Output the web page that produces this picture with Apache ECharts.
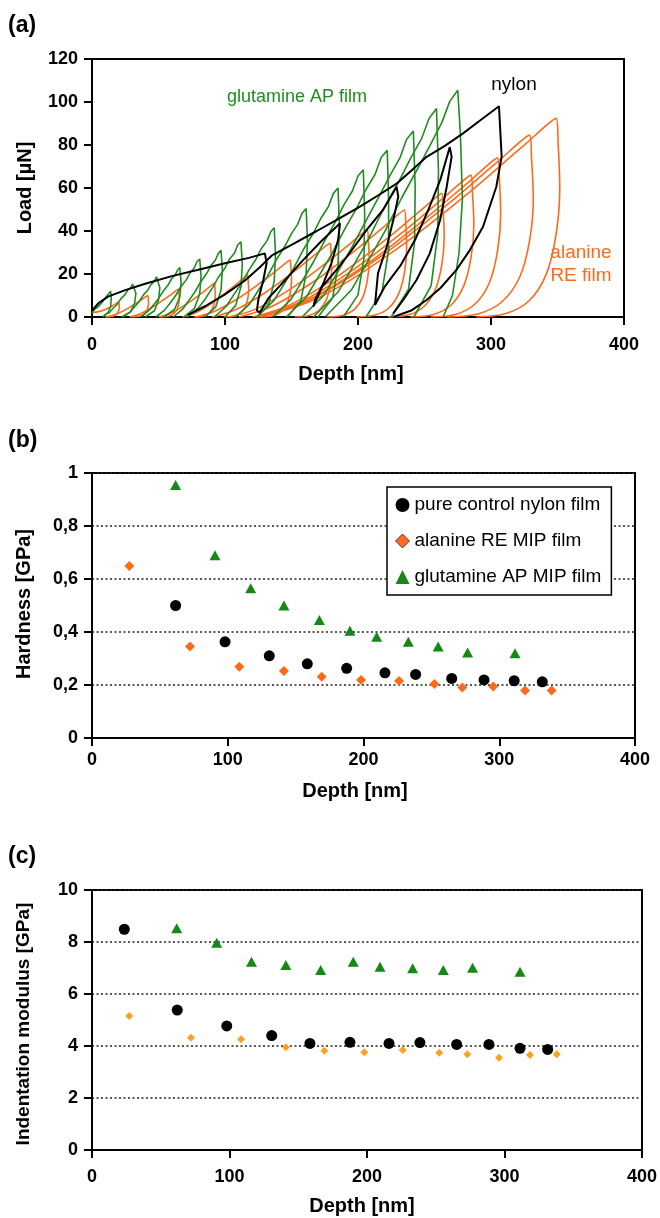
<!DOCTYPE html>
<html><head><meta charset="utf-8">
<script src="https://cdn.jsdelivr.net/npm/echarts@6/dist/echarts.min.js"></script>
<style>html,body{margin:0;padding:0;background:#fff}#c{width:660px;height:1218px}</style>
</head><body><div id="c"></div>
<script>
// ---------- Panel (a): load–depth curves [depth nm, load µN] ----------
const glutamineCurves = [
 [[0,2],[2,3.6],[3,3.2],[5,5],[6.5,5.2],[8.5,7.5],[10,8.3],[12.5,10.8],[13,10.4],[14,12],[14.5,8.5],[14,5],[12,2],[8,0]],
 [[8,0],[11,1.6],[12.8,1.9],[16,4.2],[18.8,5.8],[21.5,8.3],[24.8,10.4],[27,12.6],[29.1,13.5],[30.5,15.3],[32,16],[33,11],[32,6.4],[29,2.4],[22,0]],
 [[23.4,0],[28.7,2.3],[32,4.8],[35.4,7.1],[38.7,10.3],[42,12.6],[44.5,15.2],[46.8,16.5],[48.5,18.7],[50,19.5],[51,13.6],[50,7.8],[47,2.9],[40,0]],
 [[36.5,0],[42.4,2.8],[46,5.4],[49.8,8.4],[53.5,12],[57.2,14.9],[60,17.9],[62.5,19.5],[64.5,22],[66,23],[67,16],[66,9.2],[62,3.5],[54,0]],
 [[48,0],[54.6,3.2],[58.5,6.3],[62.9,10],[67,14.2],[71.1,17.5],[74,20.8],[77,22.9],[79,25.8],[81,27],[82,19],[81,10.8],[77,4],[69,0]],
 [[61,0],[68.2,3.7],[72.5,7.4],[77.2,11.5],[81.7,16.3],[86.2,20.2],[89.5,24],[92.7,26.4],[95,29.6],[97,31],[98,21.7],[97,12.4],[93,4.7],[85,0]],
 [[72,0],[80,4.2],[85,8.3],[90,13],[95,18.4],[100,22.8],[103.5,27],[107.2,29.8],[109.5,33.5],[112,35],[113,24.5],[112,14],[108,5.3],[100,0]],
 [[92,0],[101,5],[106.5,10.3],[112.3,15.5],[118,21.8],[123.5,27.1],[127.5,32],[131.6,35.4],[134.5,39.8],[137,41.5],[138,29],[137,16.6],[133,6.2],[124,0]],
 [[108,0],[118.6,6.1],[125,12.3],[131.9,18.9],[138.5,26.5],[145.1,33],[150,38.8],[154.6,43.1],[158,48.3],[161,50.5],[162,35],[161,20],[157,7.6],[147,0]],
 [[124,0],[136.2,7.2],[144,14.8],[151.5,22.5],[159,31.4],[166.7,39.3],[172,45.8],[177.7,51.3],[181.5,57.5],[185,60],[186,42],[185,24],[181,9],[170,0]],
 [[136,0],[149.6,8.2],[158,16.7],[166.6,25.7],[175,35.5],[183.6,44.9],[189.5,52.3],[195.8,58.6],[200,65.6],[204,68.5],[205,48],[204.5,27.4],[200,10.3],[189,0]],
 [[146,0],[161.2,9.3],[170.5,19],[180.2,29.2],[189.5,40.3],[199.2,50.9],[206,59.3],[212.9,66.4],[217.5,74.3],[222,77.5],[223,54],[223,31],[218,11.6],[206,0]],
 [[158,0],[174.7,10.4],[185,21.2],[195.6,32.6],[206,44.8],[216.5,56.8],[224,65.8],[231.6,74.1],[236.5,82.6],[241.6,86.5],[243,60.5],[242.5,34.6],[238,13],[225,0]],
 [[166.5,0],[185,11.6],[196.5,23.8],[208.1,36.6],[219.5,50.6],[231.3,63.7],[239.5,73.8],[247.9,83.1],[253.5,92.4],[259,97],[260.5,68],[260,38.8],[255,14.6],[242,0]],
 [[175.3,0],[195.2,12.7],[207.5,26],[220.2,39.8],[232.5,55],[245.1,69.3],[254,79.6],[263,90.4],[269,100.3],[275,105.5],[277,85],[278.5,55],[276,30],[271,10],[264,0]]
];
const alanineCurves = [
 [[0,2],[5,2.5],[10,3.5],[14,4.8],[17.6,6],[20,7],[20.3,6.1],[20.5,4.6],[20,2.9],[18.8,1.5],[16.6,0.6],[13.7,0.1],[9.8,0]],
 [[11,0],[17.2,1],[25,3.3],[32.7,6.2],[38.3,8.5],[42,10],[42.3,8.7],[42.5,6.5],[42,4.2],[40.6,2.2],[38,0.85],[34.6,0.2],[30,0]],
 [[28.3,0],[35.6,1.3],[44.8,4.3],[54,8.1],[60.6,11],[65,13],[65.3,11.3],[65.6,8.5],[65,5.5],[63.3,2.9],[60.4,1.1],[56.4,0.2],[51.2,0]],
 [[50.2,0],[58.6,1.6],[69,5.2],[79.5,9.7],[87,13.3],[92,15.7],[92.4,13.7],[92.7,10.2],[92,6.6],[90.2,3.5],[86.9,1.3],[82.5,0.3],[76.6,0]],
 [[68,0],[77.8,1.95],[90,6.4],[102.3,12.1],[111.1,16.6],[117,19.5],[117.4,17],[117.8,12.7],[117,8.2],[114.9,4.3],[111.2,1.7],[106,0.35],[99.3,0]],
 [[78,0],[92.2,2.65],[110,8.7],[127.7,16.4],[140.5,22.5],[149,26.5],[149.5,23],[150,17.2],[149,11.1],[146.4,5.8],[141.8,2.25],[135.4,0.5],[127.1,0]],
 [[90.1,0],[107.9,3.4],[130.1,11.3],[152.3,21.3],[168.3,29.2],[179,34.3],[179.7,29.8],[180.2,22.3],[179,14.4],[175.8,7.5],[170.2,2.9],[162.5,0.6],[152.4,0]],
 [[103.8,0],[124.4,4],[150.2,13.4],[176,25.1],[194.6,34.4],[207,40.5],[207.8,35.2],[208.4,26.3],[207,17],[203.4,8.9],[197,3.4],[188.2,0.7],[176.7,0]],
 [[110.5,0],[135.4,5],[166.5,16.4],[197.7,30.9],[220.1,42.3],[235,49.8],[235.9,43.3],[236.6,32.4],[235,20.9],[230.7,11],[223.2,4.2],[212.7,0.9],[199.1,0]],
 [[120.7,0],[149.2,5.75],[184.7,19],[220.3,35.7],[245.9,48.9],[263,57.5],[264,50],[264.8,37.4],[263,24.2],[258.1,12.7],[249.6,4.9],[237.9,1],[222.5,0]],
 [[123.2,0],[155.6,6.6],[196,21.8],[236.5,40.9],[265.6,56.1],[285,66],[286.1,57.4],[287.1,42.9],[285,27.7],[279.5,14.5],[270,5.6],[256.7,1.2],[239.4,0]],
 [[124.8,0],[160.8,7.4],[205.9,24.4],[250.9,45.9],[283.4,62.9],[305,74],[306.3,64.4],[307.3,48.1],[305,31.1],[299,16.3],[288.4,6.3],[273.8,1.3],[254.6,0]],
 [[124.4,0],[165.3,8.5],[216.5,27.9],[267.6,52.5],[304.4,71.9],[329,84.6],[330.5,73.6],[331.8,55],[329,35.5],[321.6,18.6],[308.5,7.2],[290.6,1.5],[267,0]],
 [[126.5,0],[171,9.2],[226.6,30.5],[282.3,57.3],[322.3,78.5],[349,92.4],[350.5,80.4],[351.7,60],[349,38.8],[341.8,20.3],[329.2,7.9],[311.8,1.7],[289,0]]
];
const nylonCurves = [
 [[0,3],[5,6.5],[12,9.5],[25,12.5],[40,15.5],[60,19],[80,22],[100,25],[118,27.5],[130,29.6],
  [131.3,25],[128.8,17.2],[125,7.9],[124,3],[126,2],[133,9],[145,17],[158,26],[172,35],[186.5,43.6],
  [185,35.8],[180,25],[174,15.7],[167.7,7.9],[166.4,4.8],[173,14],[184,22],[194,30],[206.5,40.5],[219,50],[229,60.6],
  [230.3,56],[226.5,45],[221.6,32.7],[215,20.3],[212.8,5.6],[220,14],[232,24],[243,36],[253,50],[262,64],[269,79],
  [270.4,74.6],[266.7,60.6],[261.7,45],[254,29.6],[244,17.2],[234,7.9],[226.5,1.7]],
 [[72,1],[85,5],[100,10.5],[115,17],[126,23],[135,28.5],[150,33.5],[169,40],[185,45.5],[201.5,51.3],[215,56.5],[229,62],
  [240,68],[251.6,74.5],[265,79.5],[279,85.4],[292,91.5],[306,98],[308,74.6],[304,60.6],[294,42],[284,31],[274,21.9],
  [262,13.5],[251.6,7.9],[240,3],[226.5,0]]
];

// ---------- Panel (b): hardness [depth nm, GPa] ----------
const nylonHardness = [[61.6,0.50],[98,0.363],[130.6,0.31],[158.6,0.28],[187.6,0.263],[215.8,0.246],[238.4,0.24],[265,0.225],[288.8,0.219],[311,0.216],[331.7,0.212]];
const alanineHardness = [[27.5,0.649],[72.2,0.345],[108.5,0.269],[141.4,0.253],[169.2,0.231],[198.2,0.219],[226.2,0.215],[252.2,0.204],[272.8,0.191],[295.6,0.194],[319,0.179],[338.6,0.179]];
const glutamineHardness = [[61.6,0.955],[90.6,0.69],[116.9,0.565],[141.4,0.50],[167.5,0.445],[190,0.405],[209.7,0.382],[233,0.363],[255,0.345],[276.7,0.323],[311.6,0.32]];

// ---------- Panel (c): indentation modulus [depth nm, GPa] ----------
const nylonModulus = [[23.5,8.49],[62,5.38],[98,4.77],[130.7,4.40],[158.5,4.10],[187.6,4.14],[216,4.10],[238.5,4.13],[265.2,4.06],[288.7,4.06],[311.3,3.91],[331.4,3.87]];
const alanineModulus = [[27.1,5.15],[72,4.32],[108.4,4.26],[141,3.95],[169,3.82],[198,3.76],[226,3.85],[252.6,3.74],[273,3.68],[296,3.55],[318.5,3.65],[338,3.68]];
const glutamineModulus = [[61.6,8.53],[90.7,7.97],[116,7.24],[141,7.12],[166.3,6.92],[190,7.24],[209.5,7.05],[233.2,6.99],[255.5,6.92],[276.8,7.01],[311.3,6.86]];

const hardnessTickLabels = ['0','0,2','0,4','0,6','0,8','1'];
const legendNames = ['pure control nylon film','alanine RE MIP film','glutamine AP MIP film'];

// ---------- styling ----------
const F = '"Liberation Sans", Arial, Helvetica, sans-serif';
const GREEN = '#208c20', GREEN_M = '#168816', ORANGE = '#ff6a1a', ORANGE2 = '#ffa11f', BLACK = '#000';

function xAx(gi, margin){
  return {type:'value', gridIndex:gi, min:0, max:400, interval:100,
    axisLine:{show:true, onZero:false, lineStyle:{color:'#000', width:2}},
    axisTick:{show:true, inside:false, length:8, lineStyle:{color:'#000', width:2}},
    axisLabel:{margin:margin, color:'#000', fontSize:18, fontWeight:'bold', fontFamily:F},
    splitLine:{show:false}};
}
function yAx(gi, max, interval, grid, fmt){
  return {type:'value', gridIndex:gi, min:0, max:max, interval:interval,
    axisLine:{show:true, onZero:false, lineStyle:{color:'#000', width:2}},
    axisTick:{show:true, inside:false, length:8, lineStyle:{color:'#000', width:2}},
    axisLabel:{margin:14, color:'#000', fontSize:18, fontWeight:'bold', fontFamily:F, formatter:fmt},
    splitLine:{show:grid, lineStyle:{color:'#222', width:1.5, type:[2,2.5]}}};
}
const gridStyle = {show:true, borderColor:'#000', borderWidth:2, backgroundColor:'transparent', containLabel:false};

const series = [];
alanineCurves.forEach(c => series.push({type:'line', xAxisIndex:0, yAxisIndex:0, data:c, symbol:'none', silent:true,
  smooth:0.35, lineStyle:{color:ORANGE, width:1.6}, z:2, animation:false}));
glutamineCurves.forEach(c => series.push({type:'line', xAxisIndex:0, yAxisIndex:0, data:c, symbol:'none', silent:true,
  lineStyle:{color:GREEN, width:1.6}, z:3, animation:false}));
nylonCurves.forEach(c => series.push({type:'line', xAxisIndex:0, yAxisIndex:0, data:c, symbol:'none', silent:true,
  lineStyle:{color:BLACK, width:2}, z:4, animation:false}));

const solid = c => ({color:c, opacity:1});
series.push({name:legendNames[0], type:'scatter', xAxisIndex:1, yAxisIndex:1, data:nylonHardness, symbol:'circle', symbolSize:11, itemStyle:solid(BLACK), z:5});
series.push({name:legendNames[1], type:'scatter', xAxisIndex:1, yAxisIndex:1, data:alanineHardness, symbol:'diamond', symbolSize:10, itemStyle:solid(ORANGE), z:5});
series.push({name:legendNames[2], type:'scatter', xAxisIndex:1, yAxisIndex:1, data:glutamineHardness, symbol:'triangle', symbolSize:[11,10], itemStyle:solid(GREEN_M), z:5});

series.push({name:'nylonE', type:'scatter', xAxisIndex:2, yAxisIndex:2, data:nylonModulus, symbol:'circle', symbolSize:11, itemStyle:solid(BLACK), z:5});
series.push({name:'alanineE', type:'scatter', xAxisIndex:2, yAxisIndex:2, data:alanineModulus, symbol:'diamond', symbolSize:8, itemStyle:solid(ORANGE2), z:5});
series.push({name:'glutamineE', type:'scatter', xAxisIndex:2, yAxisIndex:2, data:glutamineModulus, symbol:'triangle', symbolSize:[11,10], itemStyle:solid(GREEN_M), z:5});

function txt(t, x, y, o){
  return {type:'text', x:x, y:y, z:100, silent:true,
    style:Object.assign({text:t, fill:'#000', font:'bold 20px '+F, textAlign:'center', textVerticalAlign:'middle'}, o||{})};
}
const graphics = [
  txt('(a)', 8, 26, {font:'bold 23px '+F, textAlign:'left'}),
  txt('(b)', 8, 441, {font:'bold 23px '+F, textAlign:'left'}),
  txt('(c)', 8, 857, {font:'bold 23px '+F, textAlign:'left'}),
  txt('Depth [nm]', 351, 374),
  txt('Depth [nm]', 355, 791),
  txt('Depth [nm]', 362, 1206),
  Object.assign(txt('Load [µN]', 25, 188), {rotation:Math.PI/2}),
  Object.assign(txt('Hardness [GPa]', 24, 604), {rotation:Math.PI/2}),
  Object.assign(txt('Indentation modulus [GPa]', 24, 1024, {font:'bold 19px '+F}), {rotation:Math.PI/2}),
  txt('glutamine AP film', 227, 97, {font:'18px '+F, fill:GREEN, textAlign:'left'}),
  txt('nylon', 514, 85, {font:'19px '+F, fill:'#000'}),
  txt('alanine', 581, 253, {font:'19px '+F, fill:ORANGE}),
  txt('RE film', 581, 276, {font:'19px '+F, fill:ORANGE})
];

const option = {
  animation:false,
  backgroundColor:'#fff',
  grid:[
    Object.assign({left:92, top:59, width:532, height:258}, gridStyle),
    Object.assign({left:92, top:473, width:543, height:265}, gridStyle),
    Object.assign({left:92, top:890, width:550, height:260}, gridStyle)
  ],
  xAxis:[xAx(0,19), xAx(1,13), xAx(2,18)],
  yAxis:[
    yAx(0,120,20,false),
    yAx(1,1,0.2,true, v => hardnessTickLabels[Math.round(v/0.2)]),
    yAx(2,10,2,true)
  ],
  legend:{orient:'vertical', left:387, top:487, padding:[8,10,8,8], itemGap:16, itemWidth:14, itemHeight:14,
    backgroundColor:'#fff', borderColor:'#000', borderWidth:1.5, selectedMode:false, z:10,
    textStyle:{fontSize:19, fontFamily:F, color:'#000', lineHeight:20},
    data:[{name:legendNames[0], icon:'circle'},
          {name:legendNames[1], icon:'diamond', itemStyle:{borderColor:'#444', borderWidth:1}},
          {name:legendNames[2], icon:'triangle'}]},
  graphic:graphics,
  series:series
};
const chart = echarts.init(document.getElementById('c'));
chart.setOption(option);
</script></body></html>
